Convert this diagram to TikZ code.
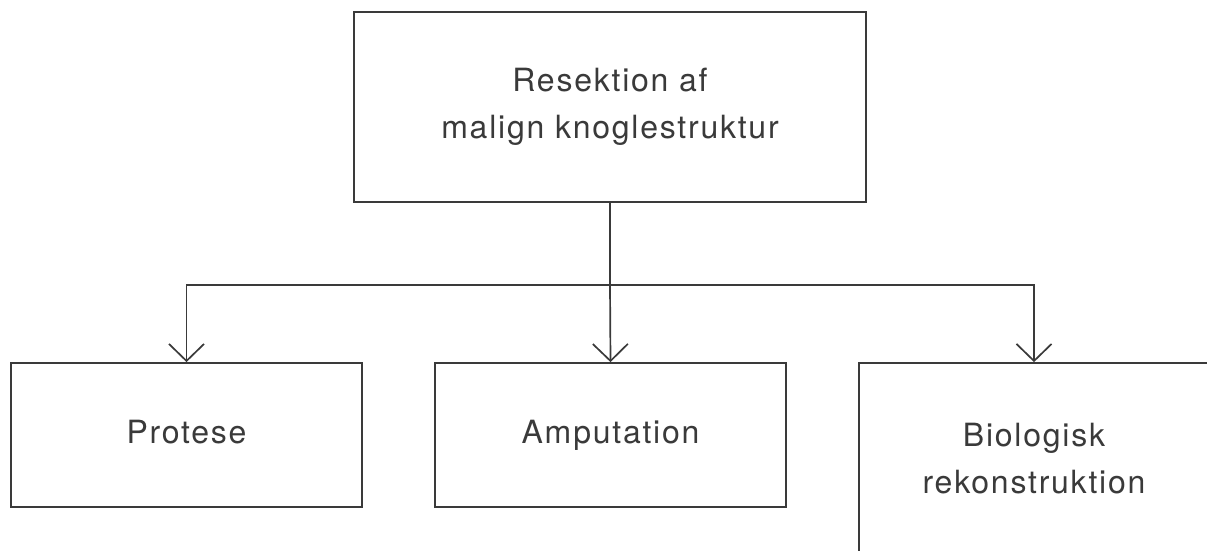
\documentclass[tikz,border=0pt]{standalone}
\usepackage{fontspec}
\newfontfamily\labfont[LetterSpace=5.5]{TeX Gyre Heros}
\usetikzlibrary{arrows.meta}
\definecolor{ink}{RGB}{58,58,58}
\begin{document}
\begin{tikzpicture}[x=1pt,y=-1pt,
  box/.style={draw=ink, line width=1.7pt, text=ink, inner sep=0pt, align=center,
    font=\labfont\fontsize{32}{47}\selectfont},
  conn/.style={draw=ink, line width=1.7pt},
  arr/.style={conn, -{Straight Barb[length=17pt,width=35pt,line width=1.7pt]}}]
\useasboundingbox (0,0) rectangle (1207,551);
\clip (0,0) rectangle (1207,551);
\node[box, minimum width=512pt, minimum height=190pt] (top) at (610,107) {Resektion af\\malign knoglestruktur};
\node[box, minimum width=351pt, minimum height=144pt] (prot) at (186.5,435) {Protese\vphantom{p}};
\node[box, minimum width=351pt, minimum height=144pt] (amp) at (610.5,435) {Amputation};
\node[box, minimum width=350pt, minimum height=192pt] (bio) at (1034,459) {Biologisk\\rekonstruktion};
\coordinate (j) at (610,285);
\draw[conn] (top.south) -- (j);
\draw[arr] (j) -| (prot.north);
\draw[arr] (j) -- (amp.north);
\draw[arr] (j) -| (bio.north);
\end{tikzpicture}
\end{document}
